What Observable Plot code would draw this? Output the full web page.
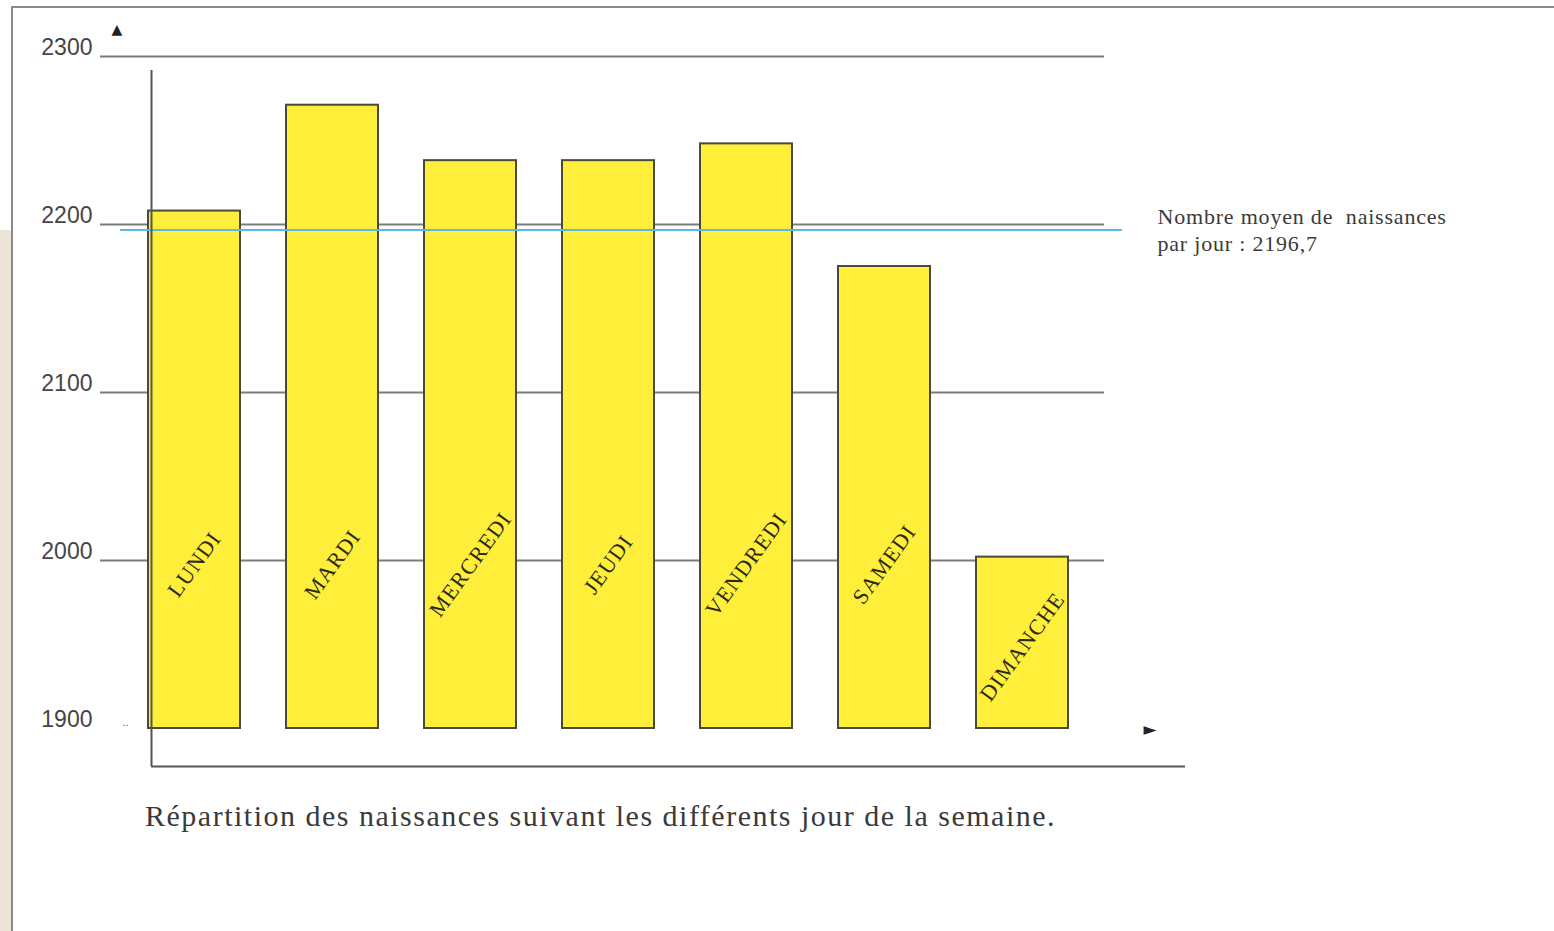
<!DOCTYPE html>
<html>
<head>
<meta charset="utf-8">
<script src="https://cdn.jsdelivr.net/npm/d3@7"></script>
<script src="https://cdn.jsdelivr.net/npm/@observablehq/plot@0.6"></script>
<style>
  html, body { margin: 0; padding: 0; background: #fff; }
  #page { position: relative; width: 1554px; height: 931px; overflow: hidden; background: #fff; }
  #beige { position: absolute; left: 0; top: 230px; width: 11px; height: 701px; background: #ece5d9; }
  #frameTop { position: absolute; left: 11px; top: 6px; width: 1543px; height: 2px; background: #8a8a8a; }
  #frameLeft { position: absolute; left: 11px; top: 6px; width: 2px; height: 925px; background: #8a8a8a; }
  #chart { position: absolute; left: 0; top: 0; }
  #caption { position: absolute; left: 145px; top: 799px; font-family: "Liberation Serif", "DejaVu Serif", serif;
             font-size: 30px; color: #3a3a3a; white-space: nowrap; letter-spacing: 1.5px; }
</style>
</head>
<body>
<div id="page">
  <div id="beige"></div>
  <div id="frameTop"></div>
  <div id="frameLeft"></div>
  <div id="chart"></div>
  <div id="caption"></div>
</div>
<script>
// ---- data ----
const days = ["LUNDI", "MARDI", "MERCREDI", "JEUDI", "VENDREDI", "SAMEDI", "DIMANCHE"];
const births = [2208, 2271, 2238, 2238, 2248, 2175, 2002];
const meanBirths = 2196.7;
const baseline = 1900;
const yTicks = [1900, 2000, 2100, 2200, 2300];
const gridValues = [2000, 2100, 2200, 2300];
const meanLabel = "Nombre moyen de  naissances\npar jour : 2196,7";
const captionText = "Répartition des naissances suivant les différents jour de la semaine.";

const data = days.map((d, i) => ({day: d, value: births[i]}));

const serif = "'Liberation Serif', 'DejaVu Serif', serif";
const sans = "'Liberation Sans', 'DejaVu Sans', sans-serif";

const chart = Plot.plot({
  width: 1554,
  height: 790,
  marginLeft: 148,
  marginRight: 485,
  marginTop: 56,
  marginBottom: 62,
  style: {background: "transparent", fontFamily: sans, color: "#333"},
  x: {domain: days, paddingInner: 0.33, paddingOuter: 0, axis: null},
  y: {domain: [baseline, 2300], axis: null},
  marks: [
    // horizontal reference lines
    Plot.ruleY(gridValues, {stroke: "#7a7a7a", strokeWidth: 2, insetLeft: -48, insetRight: -35}),
    // y tick labels
    Plot.axisY(yTicks, {anchor: "left", tickSize: 0, tickPadding: 56, dy: -9, fontSize: 23, fill: "#454545",
                        fontFamily: sans, tickFormat: d3.format("d"), label: null}),
    // bars
    Plot.barY(data, {x: "day", y1: baseline, y2: "value", fill: "#ffef3a", stroke: "#4a4a3a", strokeWidth: 2}),
    // mean line
    Plot.ruleY([meanBirths], {stroke: "#5ab9e6", strokeWidth: 2, insetLeft: -28, insetRight: -53}),
    // axis lines
    Plot.ruleX([days[0]], {stroke: "#555", strokeWidth: 2, dx: -43, insetTop: 14, insetBottom: -38}),
    Plot.ruleY([baseline], {stroke: "#555", strokeWidth: 2, dy: 38, insetLeft: 3, insetRight: -116}),
    // arrow heads and dots
    Plot.text([0], {frameAnchor: "top-left", text: () => "▲", dx: -37, dy: -32, fontSize: 14, fill: "#222", fontFamily: "'DejaVu Sans', sans-serif"}),
    Plot.text([0], {frameAnchor: "bottom-right", text: () => "►", dx: 87, dy: 6, fontSize: 17, fill: "#222", fontFamily: "'DejaVu Sans', sans-serif"}),
    Plot.text([0], {frameAnchor: "bottom-left", text: () => "..", dx: -26, dy: -3, fontSize: 11, fill: "#555"}),
    // day labels inside the bars
    Plot.text(data, {
      x: "day",
      y: d => d.value > 2100 ? 2000 : (baseline + d.value) / 2,
      text: "day", rotate: -54, fontSize: 22, fontFamily: serif, fill: "#2a2a1a", dy: 4
    }),
    // mean annotation
    Plot.text([meanBirths], {
      y: d => d, frameAnchor: "right", dx: 88, dy: -1, textAnchor: "start", lineAnchor: "middle",
      text: () => meanLabel, fontSize: 22, lineHeight: 1.2, fontFamily: serif, fill: "#3a3a3a"
    })
  ]
});

// letter spacing tweaks to match the stretched lettering of the original
d3.select(chart).selectAll("text, tspan").each(function() {
  const t = this.textContent;
  if (days.includes(t)) this.setAttribute("letter-spacing", "1.2");
  if (t.startsWith("Nombre") || t.startsWith("par jour")) this.setAttribute("letter-spacing", "0.8");
});

document.getElementById("chart").appendChild(chart);
document.getElementById("caption").textContent = captionText;
</script>
</body>
</html>
